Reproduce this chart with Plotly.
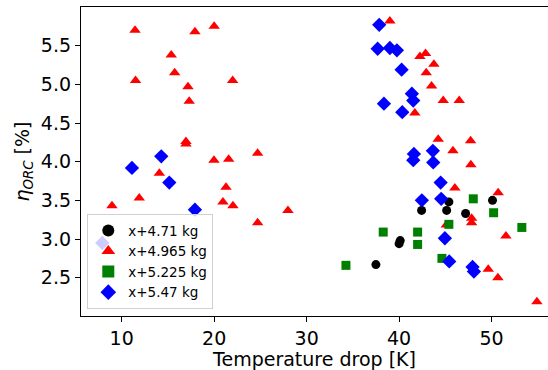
import plotly.graph_objects as go

# x+4.71 kg (black circles)
t_471 = [45.38, 50.10, 42.43, 45.14, 47.19, 40.00, 40.12, 37.49]
eta_471 = [3.48, 3.50, 3.37, 3.37, 3.33, 2.94, 2.98, 2.67]

# x+4.965 kg (red triangles)
t_4965 = [11.44, 17.92, 20.00, 15.36, 15.73, 11.50, 22.00, 17.17, 17.30, 16.95,
          16.95, 24.70, 19.98, 21.57, 14.07, 21.28, 11.90, 20.95, 22.03, 8.95,
          27.98, 24.70,
          39.00, 42.25, 42.86, 43.76, 42.93, 43.51, 44.77, 46.50, 41.70, 44.23,
          47.73, 45.82, 47.76, 46.03, 50.71, 47.84, 47.84, 45.10, 51.55, 49.64,
          50.68, 54.90]
eta_4965 = [5.70, 5.68, 5.75, 5.38, 5.15, 5.05, 5.05, 4.97, 4.78, 4.26,
            4.23, 4.11, 4.02, 4.03, 3.85, 3.67, 3.53, 3.48, 3.43, 3.43,
            3.37, 3.21,
            5.82, 5.36, 5.40, 5.26, 5.15, 4.98, 4.79, 4.79, 4.63, 4.29,
            4.27, 4.14, 3.96, 3.66, 3.60, 3.27, 3.21, 3.18, 3.04, 2.61,
            2.50, 2.19]

# x+5.225 kg (green squares)
t_5225 = [48.02, 50.22, 45.38, 53.27, 38.28, 42.00, 42.00, 44.63, 34.25]
eta_5225 = [3.52, 3.34, 3.19, 3.15, 3.09, 3.09, 2.93, 2.75, 2.66]

# x+5.47 kg (blue diamonds)
t_547 = [14.28, 11.11, 15.15, 17.92, 7.90,
         37.85, 37.68, 39.00, 39.76, 40.27, 41.38, 41.53, 38.36, 40.34, 41.60,
         41.53, 43.65, 43.69, 44.49, 42.46, 44.55, 44.95, 45.42, 47.94, 48.09]
eta_547 = [4.07, 3.92, 3.73, 3.38, 2.95,
           5.77, 5.46, 5.47, 5.44, 5.19, 4.88, 4.79, 4.75, 4.64, 4.10,
           4.02, 4.14, 3.99, 3.73, 3.50, 3.52, 3.01, 2.71, 2.64, 2.58]

series = [
    ("x+4.71 kg", t_471, eta_471, "circle", "black", 9),
    ("x+4.965 kg", t_4965, eta_4965, "triangle-up", "red", 10),
    ("x+5.225 kg", t_5225, eta_5225, "square", "green", 9),
    ("x+5.47 kg", t_547, eta_547, "diamond", "blue", 11),
]

fig = go.Figure()
for name, xs, ys, sym, col, sz in series:
    fig.add_trace(go.Scatter(
        x=xs, y=ys, mode="markers", name=name,
        marker=dict(symbol=sym, color=col, size=sz, line=dict(width=0)),
    ))

font = "DejaVu Sans"
fig.update_layout(
    width=548, height=370,
    margin=dict(l=81, r=0, t=7, b=54, autoexpand=False),
    paper_bgcolor="white", plot_bgcolor="white",
    font=dict(family=font, size=19, color="black"),
    showlegend=True,
    legend=dict(
        x=0.0135, y=0.022, xanchor="left", yanchor="bottom",
        bgcolor="rgba(255,255,255,0.8)", bordercolor="#d0d0d0", borderwidth=1,
        font=dict(family=font, size=13.5, color="black"),
        tracegroupgap=0, itemsizing="constant",
    ),
)
fig.update_xaxes(
    range=[5.6, 56.1], tickvals=[10, 20, 30, 40, 50],
    showgrid=False, zeroline=False, automargin=False,
    showline=True, linecolor="black", linewidth=1.3, mirror=True,
    ticks="outside", ticklen=5, tickwidth=1, tickcolor="black",
    tickfont=dict(size=19),
    title=dict(text="Temperature drop [K]", font=dict(size=19), standoff=4),
)
fig.update_yaxes(
    range=[2.005, 6.0], tickvals=[2.5, 3.0, 3.5, 4.0, 4.5, 5.0, 5.5],
    ticktext=["2.5", "3.0", "3.5", "4.0", "4.5", "5.0", "5.5"],
    showgrid=False, zeroline=False, automargin=False,
    showline=True, linecolor="black", linewidth=1.3, mirror=False,
    ticks="outside", ticklen=5, tickwidth=1, tickcolor="black",
    tickfont=dict(size=19),
    title=dict(text="<i>η</i><sub><i>ORC</i></sub> [%]", font=dict(size=19), standoff=6),
)

fig.write_html(
    "out.html",
    config={"displayModeBar": False},
    post_script="document.body.style.margin='0';document.body.style.overflow='hidden';",
)
